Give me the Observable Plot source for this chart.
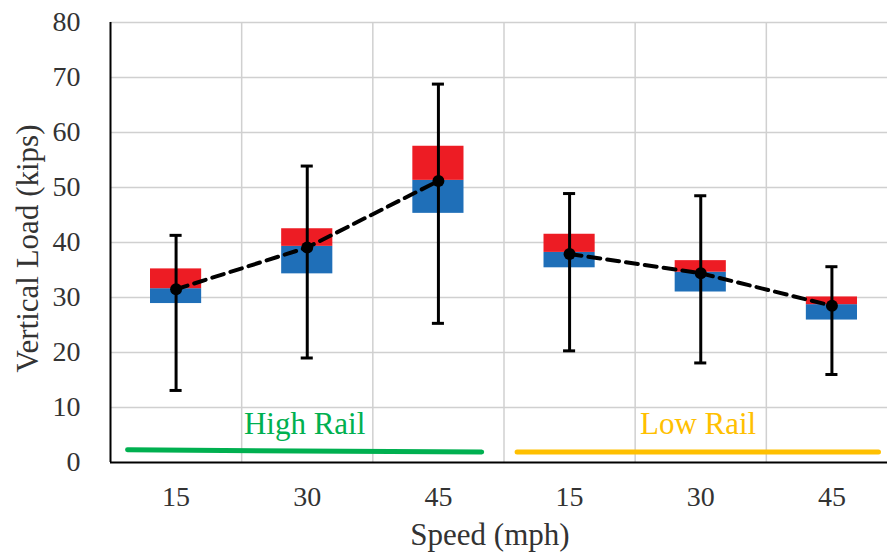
<!DOCTYPE html>
<html>
<head>
<meta charset="utf-8">
<script src="https://cdn.jsdelivr.net/npm/d3@7"></script>
<script src="https://cdn.jsdelivr.net/npm/@observablehq/plot@0.6"></script>
<style>
  html, body { margin: 0; padding: 0; background: white; }
  #chart { width: 887px; height: 557px; overflow: hidden; }
  #chart svg { max-width: none !important; }
</style>
</head>
<body>
<div id="chart"></div>
<script>
// Data
const groups = ["High Rail", "High Rail", "High Rail", "Low Rail", "Low Rail", "Low Rail"];
const speeds = [15, 30, 45, 15, 30, 45];
const minV   = [13.1, 19.0, 25.3, 20.3, 18.1, 16.0];
const q1     = [28.9, 34.3, 45.3, 35.4, 31.0, 25.9];
const median = [31.6, 39.3, 51.3, 38.2, 34.6, 28.7];
const q3     = [35.2, 42.5, 57.5, 41.5, 36.7, 30.1];
const maxV   = [41.3, 53.9, 68.8, 48.9, 48.5, 35.6];
const mean   = [31.5, 39.1, 51.2, 37.9, 34.4, 28.5];
const yTicks = [0, 10, 20, 30, 40, 50, 60, 70, 80];

// Group annotation lines (x in category-index units) and labels
const groupNames  = ["High Rail", "Low Rail"];
const groupColors = ["#00B050", "#FFC000"];
const groupLines = [
  {group: "High Rail", x: -0.37, y: 2.3},
  {group: "High Rail", x: 2.33, y: 1.9},
  {group: "Low Rail", x: 2.60, y: 1.9},
  {group: "Low Rail", x: 5.355, y: 1.9}
];
const groupLabels = [
  {group: "High Rail", x: 0.98, y: 6.9},
  {group: "Low Rail", x: 3.98, y: 6.9}
];

const idx = d3.range(speeds.length);
const rows = idx.map(i => ({
  i, group: groups[i], speed: speeds[i],
  min: minV[i], q1: q1[i], med: median[i], q3: q3[i], max: maxV[i], mean: mean[i]
}));

const boxHalf = 0.195;
const capHalf = 0.046;
const font = "Liberation Serif";

const chart = Plot.plot({
  width: 897,
  height: 557,
  marginLeft: 110,
  marginRight: 0,
  marginTop: 22,
  marginBottom: 95,
  style: {fontFamily: font, fontSize: "28px", color: "#333", background: "white"},
  x: {domain: [-0.5, 5.5], ticks: idx, tickFormat: i => speeds[i], tickSize: 0, tickPadding: 24, label: null},
  y: {domain: [0, 80], ticks: yTicks, tickSize: 0, tickPadding: 30, label: null},
  color: {domain: groupNames, range: groupColors},
  marks: [
    Plot.ruleY(yTicks.filter(d => d > 0), {stroke: "#d0d0d0", strokeWidth: 1.5}),
    Plot.ruleX(idx.map(i => i + 0.5), {stroke: "#d0d0d0", strokeWidth: 1.5}),
    Plot.rect(rows, {x1: d => d.i - boxHalf, x2: d => d.i + boxHalf, y1: "q1", y2: "med", fill: "#1F6FB8"}),
    Plot.rect(rows, {x1: d => d.i - boxHalf, x2: d => d.i + boxHalf, y1: "med", y2: "q3", fill: "#ED1C24"}),
    Plot.ruleX(rows, {x: "i", y1: "min", y2: "max", stroke: "black", strokeWidth: 3}),
    Plot.ruleY(rows, {y: "min", x1: d => d.i - capHalf, x2: d => d.i + capHalf, stroke: "black", strokeWidth: 3}),
    Plot.ruleY(rows, {y: "max", x1: d => d.i - capHalf, x2: d => d.i + capHalf, stroke: "black", strokeWidth: 3}),
    Plot.line(rows, {x: "i", y: "mean", z: "group", stroke: "black", strokeWidth: 4, strokeDasharray: "12,7"}),
    Plot.dot(rows, {x: "i", y: "mean", r: 6, fill: "black"}),
    Plot.line(groupLines, {x: "x", y: "y", z: "group", stroke: "group", strokeWidth: 5}),
    Plot.text(groupLabels, {x: "x", y: "y", text: "group", fill: "group", fontSize: 31, textAnchor: "middle", lineAnchor: "middle"}),
    Plot.ruleY([0], {stroke: "black", strokeWidth: 2}),
    Plot.ruleX([-0.5], {stroke: "black", strokeWidth: 2}),
    Plot.text(["Speed (mph)"], {frameAnchor: "bottom", dy: 73, dx: -14, fontSize: 31, fill: "#333", textAnchor: "middle", lineAnchor: "middle"}),
    Plot.text(["Vertical Load (kips)"], {frameAnchor: "left", rotate: -90, dx: -82, dy: 6, fontSize: 31, fill: "#333", textAnchor: "middle", lineAnchor: "middle"})
  ]
});
d3.select(chart).selectAll("g, text").attr("font-family", font);
document.getElementById("chart").appendChild(chart);
</script>
</body>
</html>
